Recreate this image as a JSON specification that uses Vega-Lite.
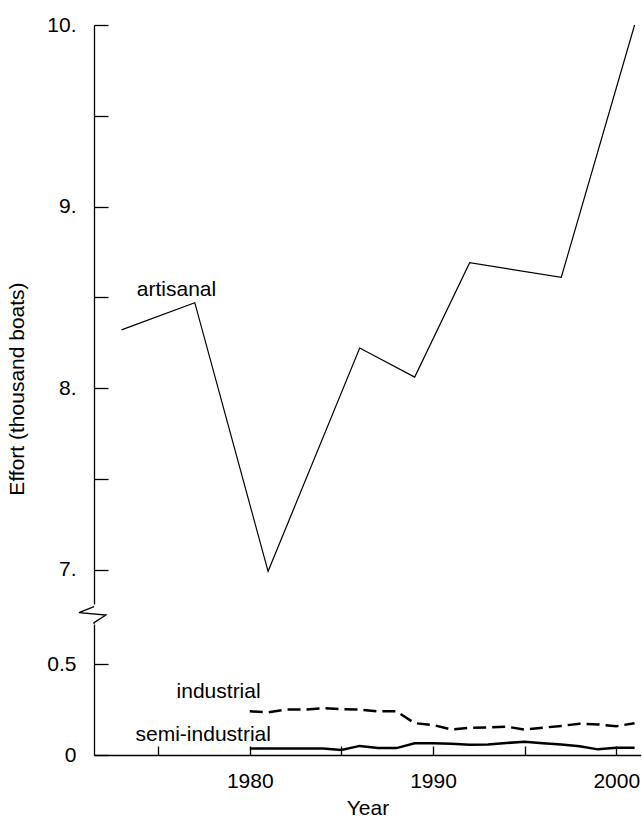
{
  "$schema": "https://vega.github.io/schema/vega-lite/v6.json",
  "padding": {"left": 6, "top": 14, "right": 0, "bottom": 0},
  "spacing": 0,
  "config": {
    "view": {"stroke": null},
    "font": "Liberation Sans",
    "axis": {"grid": false, "domainColor": "black", "tickColor": "black", "labelColor": "black", "titleColor": "black", "labelFont": "Liberation Sans", "titleFont": "Liberation Sans", "labelFontSize": 21, "titleFontSize": 21, "titleFontWeight": "normal", "domainWidth": 1.3, "tickWidth": 1.3, "labelFlush": false, "labelOverlap": false, "labelBound": false}
  },
  "datasets": {
    "artisanal": [
      {"year": 1973, "effort": 8.32},
      {"year": 1977, "effort": 8.47},
      {"year": 1981, "effort": 6.99},
      {"year": 1986, "effort": 8.22},
      {"year": 1989, "effort": 8.06},
      {"year": 1992, "effort": 8.69},
      {"year": 1997, "effort": 8.61},
      {"year": 2001, "effort": 10.0}
    ],
    "industrial": [
      {"year": 1980, "effort": 0.24},
      {"year": 1981, "effort": 0.235},
      {"year": 1982, "effort": 0.25},
      {"year": 1983, "effort": 0.25},
      {"year": 1984, "effort": 0.257},
      {"year": 1985, "effort": 0.252},
      {"year": 1986, "effort": 0.25},
      {"year": 1987, "effort": 0.24},
      {"year": 1988, "effort": 0.24},
      {"year": 1989, "effort": 0.175},
      {"year": 1990, "effort": 0.165},
      {"year": 1991, "effort": 0.14},
      {"year": 1992, "effort": 0.15},
      {"year": 1993, "effort": 0.152},
      {"year": 1994, "effort": 0.156},
      {"year": 1995, "effort": 0.14},
      {"year": 1996, "effort": 0.15},
      {"year": 1997, "effort": 0.16},
      {"year": 1998, "effort": 0.172},
      {"year": 1999, "effort": 0.168},
      {"year": 2000, "effort": 0.158},
      {"year": 2001, "effort": 0.175}
    ],
    "semi": [
      {"year": 1980, "effort": 0.036},
      {"year": 1981, "effort": 0.036},
      {"year": 1982, "effort": 0.036},
      {"year": 1983, "effort": 0.036},
      {"year": 1984, "effort": 0.036},
      {"year": 1985, "effort": 0.028},
      {"year": 1986, "effort": 0.05},
      {"year": 1987, "effort": 0.038},
      {"year": 1988, "effort": 0.038},
      {"year": 1989, "effort": 0.064},
      {"year": 1990, "effort": 0.064},
      {"year": 1991, "effort": 0.062},
      {"year": 1992, "effort": 0.056},
      {"year": 1993, "effort": 0.058},
      {"year": 1994, "effort": 0.066},
      {"year": 1995, "effort": 0.073},
      {"year": 1996, "effort": 0.065},
      {"year": 1997, "effort": 0.058},
      {"year": 1998, "effort": 0.048},
      {"year": 1999, "effort": 0.031},
      {"year": 2000, "effort": 0.04},
      {"year": 2001, "effort": 0.04}
    ],
    "topLabels": [
      {"year": 1976, "effort": 8.54, "label": "artisanal"}
    ],
    "bottomLabels": [
      {"year": 1978.3, "effort": 0.344, "label": "industrial"},
      {"year": 1977.46, "effort": 0.112, "label": "semi-industrial"}
    ],
    "axisBreak": [
      {"step": 1, "year": 1971.5, "effort": 0.815},
      {"step": 2, "year": 1970.68, "effort": 0.782},
      {"step": 3, "year": 1972.15, "effort": 0.769},
      {"step": 4, "year": 1971.5, "effort": 0.727},
      {"step": 5, "year": 1971.5, "effort": 0.72}
    ]
  },
  "vconcat": [
    {
      "width": 547,
      "height": 579,
      "layer": [
        {
          "data": {"name": "artisanal"},
          "mark": {"type": "line", "color": "black", "strokeWidth": 1.2},
          "encoding": {
            "x": {"field": "year", "type": "quantitative", "scale": {"domain": [1971.5, 2001.35], "nice": false, "zero": false}, "axis": null},
            "y": {"field": "effort", "type": "quantitative", "scale": {"domain": [6.81, 10], "nice": false, "zero": false},
              "axis": {"title": "Effort (thousand boats)", "values": [7, 7.5, 8, 8.5, 9, 9.5, 10], "labelExpr": "datum.value % 1 == 0 ? datum.value + '.' : ''", "tickSize": -14, "labelPadding": 32, "titleAngle": -90, "titleX": -77, "titleY": 363.5, "titleBaseline": "middle", "titleAlign": "center"}}
          }
        },
        {
          "data": {"name": "topLabels"},
          "mark": {"type": "text", "fontSize": 21, "color": "black", "font": "Liberation Sans"},
          "encoding": {
            "x": {"field": "year", "type": "quantitative"},
            "y": {"field": "effort", "type": "quantitative"},
            "text": {"field": "label"}
          }
        }
      ]
    },
    {
      "width": 547,
      "height": 131,
      "layer": [
        {
          "data": {"name": "industrial"},
          "mark": {"type": "line", "color": "black", "strokeWidth": 2.5, "strokeDash": [13, 6]},
          "encoding": {
            "x": {"field": "year", "type": "quantitative", "scale": {"domain": [1971.5, 2001.35], "nice": false, "zero": false},
              "axis": {"title": "Year", "values": [1975, 1980, 1985, 1990, 1995, 2000], "labelExpr": "datum.value % 10 == 0 ? '' + datum.value : ''", "tickSize": -9, "labelPadding": 24, "titlePadding": 6}},
            "y": {"field": "effort", "type": "quantitative", "scale": {"domain": [0, 0.72], "nice": false, "zero": false},
              "axis": {"title": null, "values": [0, 0.5], "labelExpr": "datum.value == 0 ? '0' : '0.5'", "tickSize": -14, "labelPadding": 32}}
          }
        },
        {
          "data": {"name": "semi"},
          "mark": {"type": "line", "color": "black", "strokeWidth": 2.5},
          "encoding": {
            "x": {"field": "year", "type": "quantitative"},
            "y": {"field": "effort", "type": "quantitative"}
          }
        },
        {
          "data": {"name": "bottomLabels"},
          "mark": {"type": "text", "fontSize": 21, "color": "black", "font": "Liberation Sans"},
          "encoding": {
            "x": {"field": "year", "type": "quantitative"},
            "y": {"field": "effort", "type": "quantitative"},
            "text": {"field": "label"}
          }
        },
        {
          "data": {"name": "axisBreak"},
          "mark": {"type": "line", "color": "black", "strokeWidth": 1.3, "clip": false},
          "encoding": {
            "x": {"field": "year", "type": "quantitative"},
            "y": {"field": "effort", "type": "quantitative"},
            "order": {"field": "step", "type": "quantitative"}
          }
        }
      ]
    }
  ]
}
